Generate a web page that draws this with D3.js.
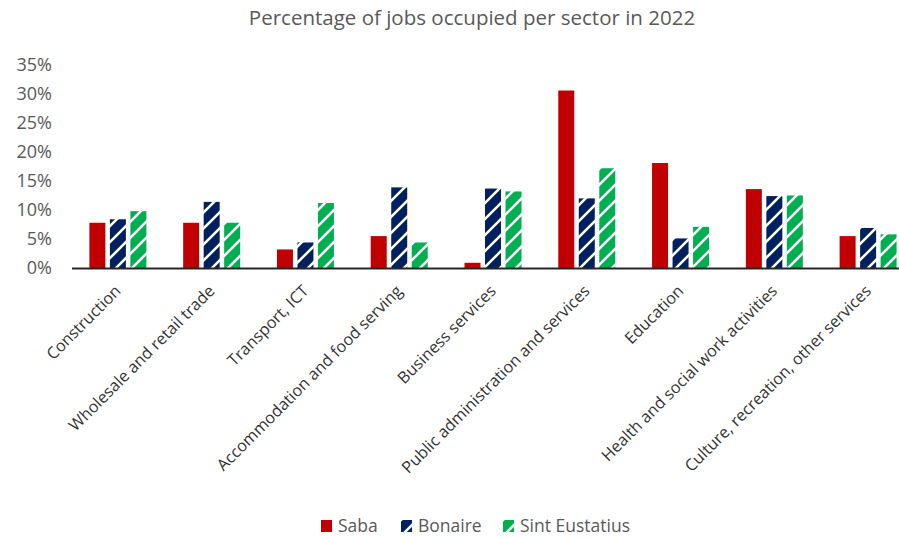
<!DOCTYPE html>
<html>
<head>
<meta charset="utf-8">
<script src="https://cdn.jsdelivr.net/npm/d3@7"></script>
<style>
  html, body { margin: 0; padding: 0; background: #fff; }
  svg { display: block; font-family: "Open Sans", "Noto Sans", sans-serif; }
</style>
</head>
<body>
<svg id="chart" width="899" height="538"></svg>
<script>
// Share of occupied jobs per sector, 2022
const sectors = [
  "Construction",
  "Wholesale and retail trade",
  "Transport, ICT",
  "Accommodation and food serving",
  "Business services",
  "Public administration and services",
  "Education",
  "Health and social work activities",
  "Culture, recreation, other services"
];
const seriesNames = ["Saba", "Bonaire", "Sint Eustatius"];
const saba          = [0.078, 0.078, 0.032, 0.055, 0.009, 0.306, 0.181, 0.136, 0.055];
const bonaire       = [0.084, 0.114, 0.044, 0.139, 0.137, 0.120, 0.051, 0.124, 0.069];
const sintEustatius = [0.098, 0.078, 0.112, 0.044, 0.132, 0.172, 0.071, 0.125, 0.058];
const yTicks = [0, 0.05, 0.10, 0.15, 0.20, 0.25, 0.30, 0.35];

const seriesValues = [saba, bonaire, sintEustatius];
const colors = ["#c00000", "#002060", "#00b050"];
const hatched = [false, true, true];

const svg = d3.select("#chart");
const defs = svg.append("defs");

// Wide upward-diagonal hatch: solid colour with thin white stripes
const T = 16;
colors.forEach((c, i) => {
  if (!hatched[i]) return;
  const p = defs.append("pattern")
    .attr("id", "hatch" + i)
    .attr("patternUnits", "userSpaceOnUse")
    .attr("width", T).attr("height", T);
  p.append("rect").attr("width", T).attr("height", T).attr("fill", c);
  p.append("path")
    .attr("d", `M-4,4 L4,-4 M0,${T} L${T},0 M${T - 4},${T + 4} L${T + 4},${T - 4}`)
    .attr("stroke", "#fff").attr("stroke-width", 2.6);
});
const fillFor = i => hatched[i] ? `url(#hatch${i})` : colors[i];

const x0 = d3.scaleBand().domain(sectors).range([71, 915]).paddingInner(0).paddingOuter(0);
const y = d3.scaleLinear().domain([0, 0.35]).range([268, 65]);
const barW = 16, barGap = 4.5;
const groupW = barW * 3 + barGap * 2;
const x1 = d3.scaleLinear().domain([0, 2]).range([-groupW / 2, groupW / 2 - barW]);

// Title
svg.append("text")
  .attr("x", 472).attr("y", 25)
  .attr("text-anchor", "middle")
  .attr("font-size", 20.5)
  .attr("fill", "#595959")
  .text("Percentage of jobs occupied per sector in 2022");

// Y axis labels
svg.append("g")
  .selectAll("text")
  .data(yTicks)
  .join("text")
  .attr("x", 52)
  .attr("y", d => y(d))
  .attr("dy", "0.36em")
  .attr("text-anchor", "end")
  .attr("font-size", 18)
  .attr("fill", "#595959")
  .text(d => d3.format(".0%")(d));

// Bars
seriesValues.forEach((vals, si) => {
  svg.append("g")
    .selectAll("rect")
    .data(vals)
    .join("rect")
    .attr("x", (d, i) => x0(sectors[i]) + x0.bandwidth() / 2 + x1(si))
    .attr("y", d => y(d))
    .attr("width", barW)
    .attr("height", d => y(0) - y(d))
    .attr("fill", fillFor(si));
});

// Category axis line
svg.append("line")
  .attr("x1", 72).attr("x2", 899)
  .attr("y1", y(0) + 0.5).attr("y2", y(0) + 0.5)
  .attr("stroke", "#262626").attr("stroke-width", 2);

// Rotated category labels
svg.append("g")
  .selectAll("text")
  .data(sectors)
  .join("text")
  .attr("transform", d => `translate(${x0(d) + x0.bandwidth() / 2 + 4},${292}) rotate(-45)`)
  .attr("text-anchor", "end")
  .attr("font-size", 16.2)
  .attr("fill", "#333333")
  .text(d => d);

// Legend
const legendX = [321, 401, 503];
const legend = svg.append("g");
seriesNames.forEach((name, i) => {
  const g = legend.append("g").attr("transform", `translate(${legendX[i]},520)`);
  g.append("rect").attr("x", 0).attr("y", 0).attr("width", 11).attr("height", 12).attr("fill", fillFor(i));
  g.append("text")
    .attr("x", 17).attr("y", 6).attr("dy", "0.36em")
    .attr("font-size", 17.5)
    .attr("fill", "#595959")
    .text(name);
});
</script>
</body>
</html>
